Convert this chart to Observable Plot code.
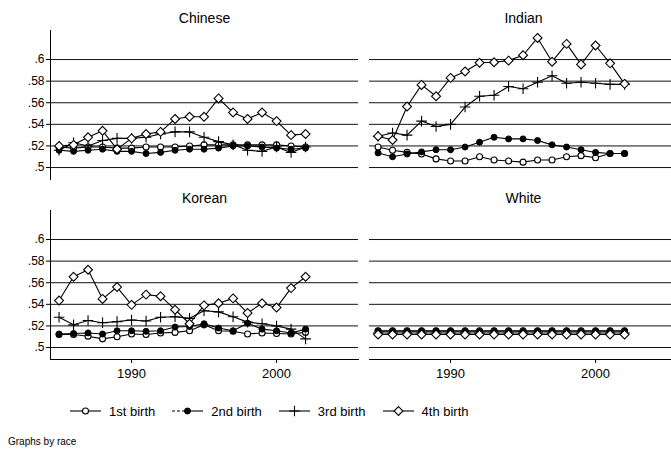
<!DOCTYPE html>
<html><head><meta charset="utf-8">
<script src="https://cdn.jsdelivr.net/npm/d3@7"></script>
<script src="https://cdn.jsdelivr.net/npm/@observablehq/plot@0.6"></script>
<style>
body{margin:0;background:#fff;overflow:hidden;font-family:"Liberation Sans",Arial,Helvetica,sans-serif;color:#000}
#legend{display:flex;align-items:center;height:20px;margin-top:11px;padding-left:70px;font-size:13px}
.item{display:flex;align-items:center;margin-right:17px}
.item svg{margin-right:8px}
#caption{font-size:10px;line-height:12px;margin:15px 0 0 8px}
</style></head><body>
<div id="chart"></div><div id="legend"></div><div id="caption">Graphs by race</div>
<script>
const years = [1985,1986,1987,1988,1989,1990,1991,1992,1993,1994,1995,1996,1997,1998,1999,2000,2001,2002];
const races = ["Chinese","Indian","Korean","White"];
const births = ["1st birth","2nd birth","3rd birth","4th birth"];
const yTicks = [0.5,0.52,0.54,0.56,0.58,0.6];
const xTicks = [1990,2000];

const chinese1 = [.519,.518,.519,.519,.518,.518,.519,.519,.519,.520,.521,.521,.521,.521,.521,.521,.520,.519];
const chinese2 = [.516,.515,.516,.517,.515,.515,.513,.514,.516,.517,.517,.518,.520,.520,.519,.518,.517,.518];
const chinese3 = [.516,.523,.520,.525,.527,.527,.528,.531,.533,.533,.528,.524,.521,.516,.515,.519,.514,.519];
const chinese4 = [.520,.521,.528,.534,.517,.527,.531,.533,.545,.547,.547,.564,.551,.545,.551,.543,.530,.531];

const indian1 = [.519,.516,.514,.5125,.508,.506,.506,.510,.507,.506,.505,.507,.507,.510,.511,.509,.513,.513];
const indian2 = [.5135,.510,.5125,.5145,.5165,.5165,.519,.5235,.528,.5265,.5265,.525,.521,.519,.5165,.514,.513,.513];
const indian3 = [.529,.532,.530,.543,.538,.540,.556,.566,.567,.575,.573,.579,.585,.578,.579,.578,.577,.577];
const indian4 = [.529,.5255,.5565,.5765,.566,.583,.589,.597,.5975,.599,.604,.620,.598,.6145,.5955,.613,.5965,.5775];

const korean1 = [.512,.512,.5105,.508,.510,.5125,.512,.5135,.514,.5155,.521,.5155,.515,.5125,.5135,.513,.5125,.514];
const korean2 = [.5125,.513,.5135,.5125,.5155,.5155,.515,.5155,.519,.5195,.522,.518,.5155,.5225,.517,.5155,.5135,.517];
const korean3 = [.528,.521,.525,.523,.524,.5255,.5245,.528,.5285,.527,.534,.533,.5285,.5235,.522,.520,.517,.508];
const korean4 = [.5435,.5655,.572,.545,.556,.5395,.549,.5475,.535,.522,.539,.541,.5455,.532,.541,.537,.555,.5655];

const white1 = [.5155,.5155,.5155,.5155,.5155,.5155,.5155,.5155,.5155,.5155,.5155,.5155,.5155,.5155,.5155,.5155,.5155,.5155];
const white2 = [.515,.515,.515,.515,.515,.515,.515,.515,.515,.515,.515,.515,.515,.515,.515,.515,.515,.515];
const white3 = [.5135,.5135,.5135,.5135,.5135,.5135,.5135,.5135,.5135,.5135,.5135,.5135,.5135,.5135,.5135,.5135,.5135,.5135];
const white4 = [.512,.512,.512,.512,.512,.512,.512,.512,.512,.512,.512,.512,.512,.512,.512,.512,.512,.512];

const series = {
  Chinese: [chinese1, chinese2, chinese3, chinese4],
  Indian: [indian1, indian2, indian3, indian4],
  Korean: [korean1, korean2, korean3, korean4],
  White: [white1, white2, white3, white4]
};

const rows = [];
races.forEach((race, i) => series[race].forEach((vals, j) => vals.forEach((v, k) =>
  rows.push({race, birth: births[j], year: years[k], value: v, col: i % 2, row: Math.floor(i / 2)}))));
const titles = races.map((race, i) => ({race, col: i % 2, row: Math.floor(i / 2)}));

const dotStyles = [
  {symbol: "circle", r: 3, fill: "white", stroke: "black", strokeWidth: 1.1},
  {symbol: "circle", r: 3, fill: "black", stroke: "black", strokeWidth: 1},
  {symbol: "plus", r: 3.5, fill: "none", stroke: "black", strokeWidth: 1.1},
  {symbol: "diamond2", r: 4, fill: "white", stroke: "black", strokeWidth: 1.1}
];

const fmt = d => d.toFixed(2).replace(/^0/, "").replace(/0$/, "");

const seriesMarks = births.flatMap((b, j) => {
  const d = rows.filter(r => r.birth === b);
  return [
    Plot.line(d, {x: "year", y: "value", z: "race", fx: "col", fy: "row", stroke: "black", strokeWidth: 1.1}),
    Plot.dot(d, {x: "year", y: "value", fx: "col", fy: "row", ...dotStyles[j]})
  ];
});

const chart = Plot.plot({
  width: 671,
  height: 390,
  marginLeft: 50,
  marginRight: -6,
  marginTop: 30,
  marginBottom: 31,
  style: {fontFamily: "Liberation Sans, Arial, Helvetica, sans-serif", fontSize: "12px", color: "black", background: "white", overflow: "hidden"},
  fx: {axis: null, domain: [0, 1], padding: 0.0345, paddingOuter: 0, round: false},
  fy: {axis: null, domain: [0, 1], padding: 0.172, paddingOuter: 0, round: false},
  x: {domain: [1984.41, 2005.65], ticks: xTicks, tickFormat: d => String(d), tickSize: 4, tickPadding: 5, label: null, line: true},
  y: {domain: [0.4889, 0.6269], ticks: yTicks, tickFormat: fmt, tickSize: 4, tickPadding: 2, label: null, line: true},
  marks: [
    Plot.ruleY(yTicks, {stroke: "#111", strokeWidth: 1}),
    Plot.text(titles, {fx: "col", fy: "row", text: "race", frameAnchor: "top", dy: -12, lineAnchor: "middle", fontSize: 14}),
    ...seriesMarks
  ]
});
document.getElementById("chart").appendChild(chart);
d3.select(chart).selectAll('[aria-label="x-axis tick label"] text, [aria-label="x-axis tick label"]').attr("font-size", 13);

// legend
const legend = d3.select("#legend");
births.forEach((b, j) => {
  const item = legend.append("div").attr("class", "item");
  const s = item.append("svg").attr("width", 31).attr("height", 12);
  if (j === 1) {
    s.append("line").attr("x1", 0).attr("x2", 12).attr("y1", 6).attr("y2", 6).attr("stroke", "black").attr("stroke-width", 1.1).attr("stroke-dasharray", "3,2");
    s.append("line").attr("x1", 12).attr("x2", 31).attr("y1", 6).attr("y2", 6).attr("stroke", "black").attr("stroke-width", 1.1);
  } else {
    s.append("line").attr("x1", 0).attr("x2", 31).attr("y1", 6).attr("y2", 6).attr("stroke", "black").attr("stroke-width", 1.1);
  }
  const st = dotStyles[j];
  const sym = {circle: d3.symbolCircle, plus: d3.symbolPlus, diamond2: d3.symbolDiamond2}[st.symbol];
  s.append("path").attr("transform", "translate(15.5,6)")
    .attr("d", d3.symbol(sym, Math.PI * st.r * st.r)())
    .attr("fill", st.fill).attr("stroke", st.stroke).attr("stroke-width", st.strokeWidth);
  item.append("span").text(b);
});
</script>
</body></html>
